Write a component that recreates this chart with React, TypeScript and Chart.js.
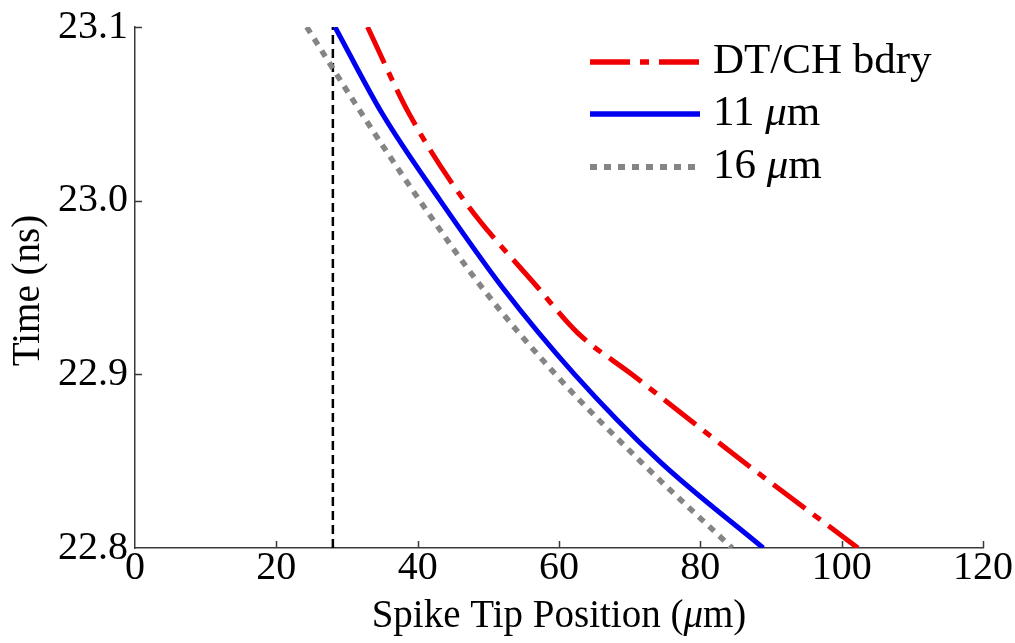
import React, { useEffect, useRef } from 'react';
import { Chart, registerables } from 'chart.js';

Chart.register(...registerables);

// ---- data ----
const seriesLabels = ['DT/CH bdry', '11 μm', '16 μm'];

const bdryTime = [23.1, 23.05, 23.0, 22.95, 22.924, 22.9, 22.85, 22.8];
const bdryPos = [32.9, 38.8, 46.6, 57.0, 62.6, 70.3, 86.0, 102.3];

const tip11Time = [23.1, 23.05, 23.0, 22.95, 22.9, 22.85, 22.8];
const tip11Pos = [28.3, 35.0, 43.2, 52.0, 62.2, 74.2, 88.9];

const tip16Time = [23.1, 23.05, 23.0, 22.95, 22.9, 22.85, 22.8];
const tip16Pos = [24.3, 32.1, 40.3, 49.1, 59.5, 71.5, 84.5];

const markerPos = [28, 28];
const markerTime = [22.8, 23.1];

const xTicks = [0, 20, 40, 60, 80, 100, 120];
const yTicks = [22.8, 22.9, 23.0, 23.1];
const xTitle = 'Spike Tip Position (μm)';
const yTitle = 'Time (ns)';

const FONT = "'Liberation Serif', 'Times New Roman', serif";
const AXIS_COLOR = '#3a3a3a';

const toPoints = (xs: number[], ys: number[]) => xs.map((x, i) => ({ x, y: ys[i] }));

function drawMixed(
  ctx: CanvasRenderingContext2D,
  text: string,
  x: number,
  y: number,
  size: number,
  align: 'left' | 'center'
) {
  const parts = text.split(/(μ)/).filter((s) => s.length > 0);
  const fontFor = (p: string) => (p === 'μ' ? 'italic ' : '') + size + 'px ' + FONT;
  let total = 0;
  const widths: number[] = [];
  for (const p of parts) {
    ctx.font = fontFor(p);
    const w = ctx.measureText(p).width;
    widths.push(w);
    total += w;
  }
  let cx = align === 'center' ? x - total / 2 : x;
  ctx.textAlign = 'left';
  ctx.textBaseline = 'alphabetic';
  parts.forEach((p, i) => {
    ctx.font = fontFor(p);
    ctx.fillText(p, cx, y);
    cx += widths[i];
  });
}

const decorPlugin = {
  id: 'decor',
  afterDraw(chart: any) {
    const { ctx, chartArea } = chart;
    const xs = chart.scales.x;
    const ys = chart.scales.y;
    ctx.save();
    // inward tick marks
    ctx.strokeStyle = AXIS_COLOR;
    ctx.lineWidth = 1.5;
    ctx.setLineDash([]);
    ctx.beginPath();
    xTicks.forEach((v) => {
      if (v === xs.min) return;
      const px = Math.round(xs.getPixelForValue(v)) + 0.5;
      ctx.moveTo(px, chartArea.bottom);
      ctx.lineTo(px, chartArea.bottom - 7);
    });
    yTicks.forEach((v) => {
      if (Math.abs(v - ys.min) < 1e-9) return;
      const py = Math.round(ys.getPixelForValue(v)) + 0.5;
      ctx.moveTo(chartArea.left, py);
      ctx.lineTo(chartArea.left + 7, py);
    });
    ctx.stroke();

    // axis titles
    ctx.fillStyle = '#000';
    drawMixed(ctx, xTitle, (chartArea.left + chartArea.right) / 2, 627, 39, 'center');
    ctx.save();
    ctx.translate(39, (chartArea.top + chartArea.bottom) / 2 + 3);
    ctx.rotate(-Math.PI / 2);
    drawMixed(ctx, yTitle, 0, 0, 39, 'center');
    ctx.restore();

    // legend
    const rows = [62, 114, 167];
    chart.data.datasets.slice(0, 3).forEach((ds: any, i: number) => {
      const y = rows[i];
      ctx.save();
      ctx.strokeStyle = ds.borderColor;
      ctx.lineWidth = ds.borderWidth + 0.5;
      ctx.lineCap = 'butt';
      ctx.setLineDash(ds.borderDash || []);
      ctx.beginPath();
      ctx.moveTo(590, y);
      ctx.lineTo(700, y);
      ctx.stroke();
      ctx.restore();
      ctx.fillStyle = '#000';
      drawMixed(ctx, ds.label, 713, y + 11, 43, 'left');
    });
    ctx.restore();
  },
};

export default function App() {
  const canvasRef = useRef<HTMLCanvasElement | null>(null);

  useEffect(() => {
    const canvas = canvasRef.current;
    if (!canvas) return;
    const chart = new Chart(canvas, {
      type: 'scatter',
      data: {
        datasets: [
          {
            label: seriesLabels[0],
            data: toPoints(bdryPos, bdryTime),
            showLine: true,
            borderColor: '#f00000',
            borderWidth: 5,
            borderDash: [40, 10, 9, 10],
            borderCapStyle: 'butt',
            borderJoinStyle: 'round',
            pointRadius: 0,
            cubicInterpolationMode: 'monotone',
          },
          {
            label: seriesLabels[1],
            data: toPoints(tip11Pos, tip11Time),
            showLine: true,
            borderColor: '#0000f0',
            borderWidth: 5,
            borderJoinStyle: 'round',
            pointRadius: 0,
            cubicInterpolationMode: 'monotone',
          },
          {
            label: seriesLabels[2],
            data: toPoints(tip16Pos, tip16Time),
            showLine: true,
            borderColor: '#858585',
            borderWidth: 5.5,
            borderDash: [7, 7],
            borderCapStyle: 'butt',
            borderJoinStyle: 'round',
            pointRadius: 0,
            cubicInterpolationMode: 'monotone',
          },
          {
            label: 'marker',
            data: toPoints(markerPos, markerTime),
            showLine: true,
            borderColor: '#000',
            borderWidth: 2.5,
            borderDash: [9, 5],
            borderCapStyle: 'butt',
            pointRadius: 0,
          },
        ],
      } as any,
      options: {
        animation: false,
        responsive: false,
        maintainAspectRatio: false,
        layout: { padding: { top: 26, right: 32, left: 0, bottom: 0 } },
        plugins: {
          legend: { display: false },
          tooltip: { enabled: false },
        },
        scales: {
          x: {
            type: 'linear',
            min: 0,
            max: 120,
            afterBuildTicks: (scale: any) => {
              scale.ticks = xTicks.map((v) => ({ value: v }));
            },
            afterFit: (scale: any) => {
              scale.height = 95;
            },
            grid: { display: false, drawTicks: false },
            border: { display: true, color: AXIS_COLOR, width: 1.5 },
            ticks: {
              autoSkip: false,
              maxRotation: 0,
              padding: 0,
              color: '#000',
              font: { family: FONT, size: 40, lineHeight: 1 },
              callback: (v: any) => String(v),
            },
          },
          y: {
            type: 'linear',
            min: 22.8,
            max: 23.1,
            afterBuildTicks: (scale: any) => {
              scale.ticks = yTicks.map((v) => ({ value: v }));
            },
            afterFit: (scale: any) => {
              scale.width = 135;
            },
            grid: { display: false, drawTicks: false },
            border: { display: true, color: AXIS_COLOR, width: 1.5 },
            ticks: {
              autoSkip: false,
              padding: 7,
              color: '#000',
              font: { family: FONT, size: 40, lineHeight: 1 },
              callback: (v: any) => Number(v).toFixed(1),
            },
          },
        },
      } as any,
      plugins: [decorPlugin],
    });
    return () => chart.destroy();
  }, []);

  return (
    <div style={{ position: 'fixed', left: 0, top: 0, width: 1015, height: 643, background: '#fff' }}>
      <canvas ref={canvasRef} width={1015} height={643} style={{ display: 'block', width: 1015, height: 643 }} />
    </div>
  );
}
